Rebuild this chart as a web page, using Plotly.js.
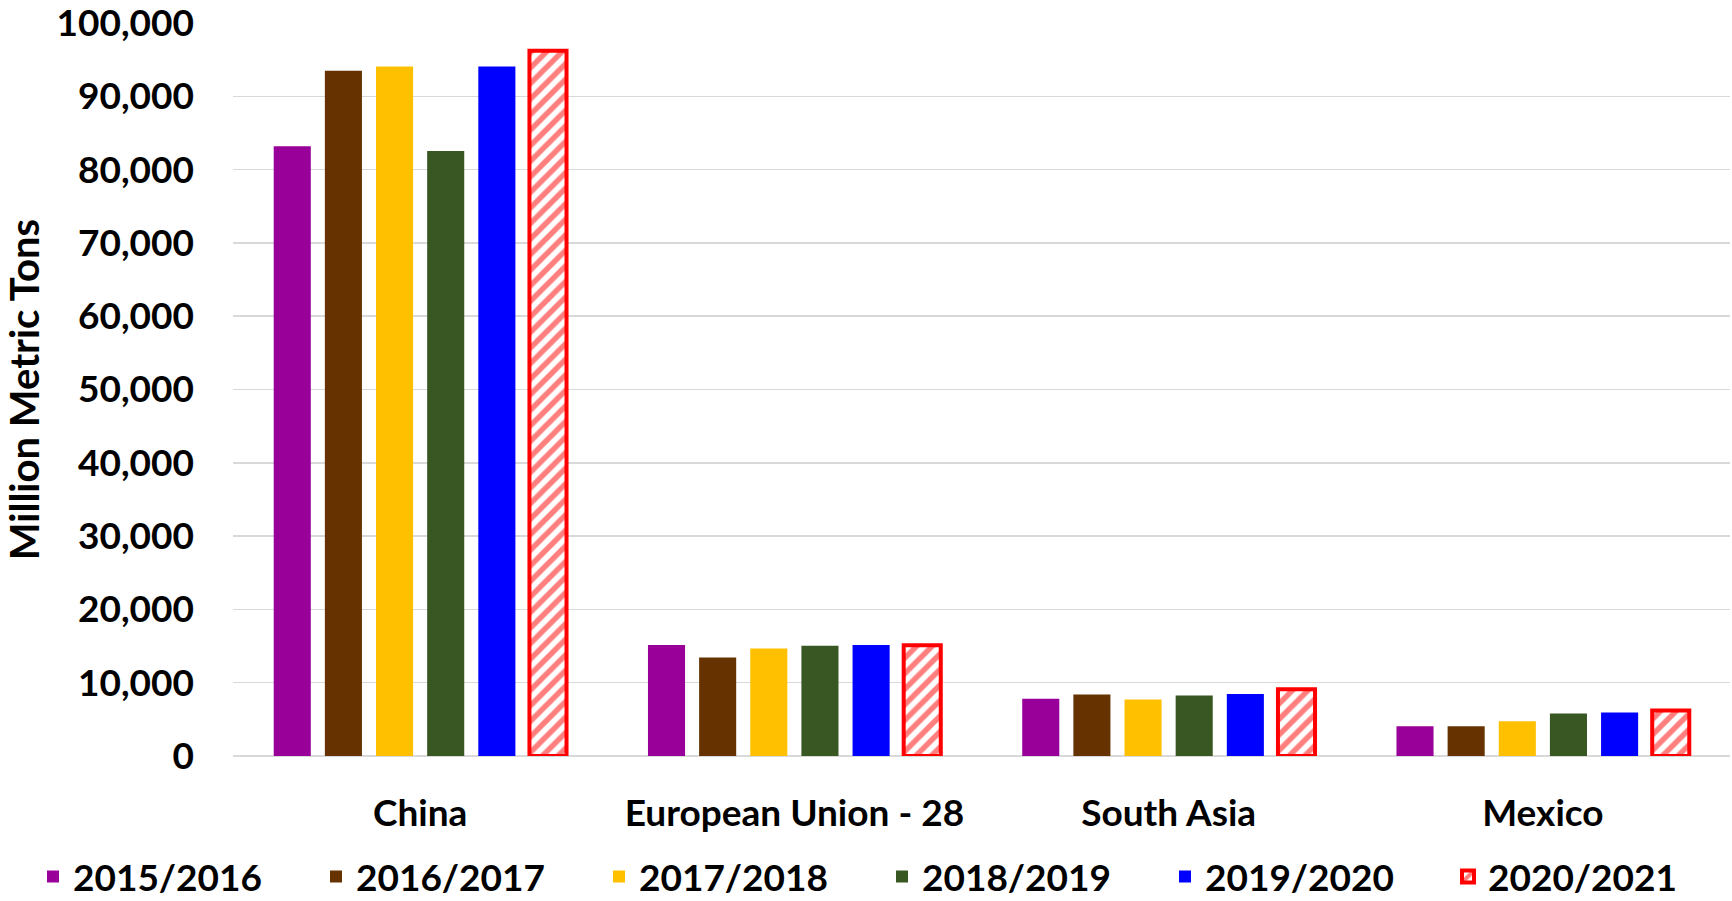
<!DOCTYPE html>
<html>
<head>
<meta charset="utf-8">
<script src="https://cdn.plot.ly/plotly-3.0.1.min.js"></script>
<style>html,body{margin:0;padding:0;background:#fff;}#chart{width:1732px;height:901px;}</style>
</head>
<body>
<div id="chart"></div>
<script>
const categories = ["China", "European Union - 28", "South Asia", "Mexico"];
const seriesNames = ["2015/2016", "2016/2017", "2017/2018", "2018/2019", "2019/2020", "2020/2021"];
const v2015 = [83200, 15150, 7800, 4050];
const v2016 = [93500, 13450, 8400, 4050];
const v2017 = [94050, 14650, 7700, 4750];
const v2018 = [82550, 15050, 8250, 5800];
const v2019 = [94050, 15150, 8450, 5950];
const v2020 = [96200, 15100, 9100, 6200];
const seriesValues = [v2015, v2016, v2017, v2018, v2019, v2020];
const colors = ["#990099", "#663300", "#FFC000", "#385723", "#0000FF", "#FF0000"];

const FONT = "Lato, 'Open Sans', sans-serif";

const traces = seriesNames.map((name, i) => {
  const t = {
    type: "bar",
    name: name,
    x: categories,
    y: seriesValues[i],
    marker: { color: colors[i], line: { width: 0 } },
    hoverinfo: "x+y+name"
  };
  if (i === 5) {
    t.marker = {
      color: "#FFFFFF",
      line: { color: "#FF0000", width: 4 },
      pattern: { shape: "/", fgcolor: "#FF0000", bgcolor: "#FFFFFF", size: 11, solidity: 0.5, fillmode: "overlay" }
    };
  }
  return t;
});

const layout = {
  width: 1732,
  height: 901,
  margin: { l: 233, r: 2, t: 22.5, b: 144.5, pad: 0, autoexpand: false },
  paper_bgcolor: "#FFFFFF",
  plot_bgcolor: "#FFFFFF",
  barmode: "group",
  bargap: 0.18,
  bargroupgap: 0.275,
  font: { family: FONT, size: 37, color: "#000000", weight: "bold" },
  xaxis: {
    type: "category",
    showgrid: false,
    zeroline: false,
    showline: false,
    ticks: "",
    ticklabelstandoff: 32,
    tickfont: { family: FONT, size: 37, color: "#000000", weight: "bold" }
  },
  yaxis: {
    range: [0, 100000],
    tickvals: [0, 10000, 20000, 30000, 40000, 50000, 60000, 70000, 80000, 90000, 100000],
    tickformat: ",d",
    showgrid: true,
    gridcolor: "#D9D9D9",
    gridwidth: 1.5,
    zeroline: true,
    zerolinecolor: "#D9D9D9",
    zerolinewidth: 1.5,
    showline: false,
    ticks: "",
    ticklabelstandoff: 38,
    ticklabeloverflow: "allow",
    tickfont: { family: FONT, size: 37, color: "#000000", weight: "bold" },
    title: { text: "Million Metric Tons", font: { family: FONT, size: 40, color: "#000000", weight: "bold" }, standoff: 31 }
  },
  showlegend: true,
  legend: {
    orientation: "h",
    x: -0.1336,
    xanchor: "left",
    y: -0.165,
    yanchor: "middle",
    entrywidth: 238,
    entrywidthmode: "pixels",
    font: { family: FONT, size: 37, color: "#000000", weight: "bold" },
    traceorder: "normal",
    bgcolor: "rgba(0,0,0,0)",
    borderwidth: 0
  }
};

Plotly.newPlot("chart", traces, layout, { displayModeBar: false, staticPlot: true });
</script>
</body>
</html>
